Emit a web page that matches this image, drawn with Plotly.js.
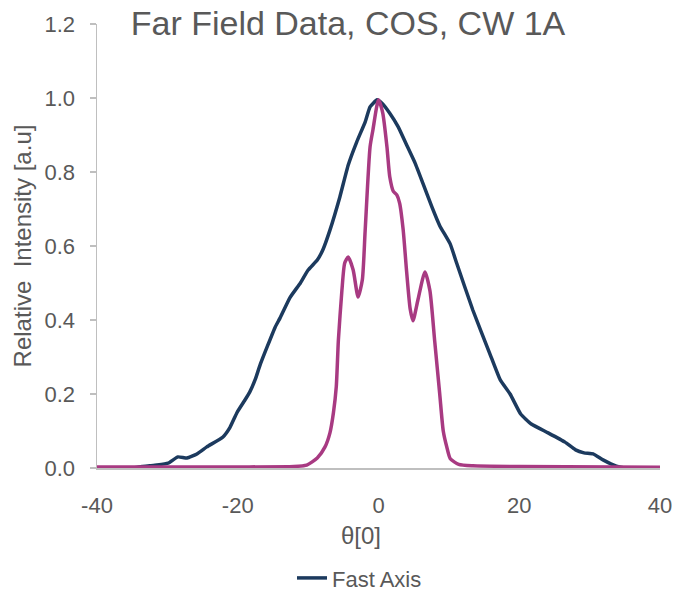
<!DOCTYPE html>
<html>
<head>
<meta charset="utf-8">
<script src="https://cdn.plot.ly/plotly-3.0.1.min.js"></script>
<style>html,body{margin:0;padding:0;background:#fff;}#chart{width:678px;height:590px;}</style>
</head>
<body>
<div id="chart"></div>
<script>
// Fast axis (navy)
var fastTheta = [-40, -35, -33.6, -32.5, -31.5, -29.9, -28.5, -27.2, -25.8, -24.4, -22.1, -21.1, -20.1, -19, -18.3, -17.5, -16.8, -14.7, -14, -12.6, -11.1, -10, -8.7, -7.9, -6.9, -5.5, -4.3, -3.1, -1.9, -1.2, -0.2, 0.5, 1.6, 2.8, 4.0, 5.2, 6.3, 7.6, 8.7, 10.2, 11.1, 13.4, 15.8, 17.3, 18.7, 20.2, 21.7, 24.1, 26.5, 28, 29.2, 30.5, 31.9, 33.8, 35, 40];
var fastI = [0.0, 0.0, 0.004, 0.006, 0.008, 0.013, 0.03, 0.027, 0.038, 0.057, 0.084, 0.11, 0.15, 0.183, 0.205, 0.24, 0.28, 0.38, 0.405, 0.46, 0.50, 0.535, 0.562, 0.59, 0.643, 0.732, 0.819, 0.881, 0.935, 0.976, 0.995, 0.986, 0.959, 0.922, 0.873, 0.824, 0.77, 0.705, 0.655, 0.605, 0.554, 0.427, 0.31, 0.238, 0.2, 0.146, 0.119, 0.095, 0.07, 0.049, 0.041, 0.038, 0.022, 0.005, 0.0, 0.0];
// Slow axis (magenta)
var slowTheta = [-40, -34, -20, -12, -10.2, -8.7, -7.6, -6.9, -6.4, -6.0, -5.7, -5.2, -4.8, -4.3, -3.6, -2.9, -2.3, -1.9, -1.2, -0.8, 0, 0.6, 1.2, 1.6, 2.1, 2.6, 3.0, 3.5, 4.0, 4.5, 4.9, 5.6, 6.6, 7.3, 8.0, 8.7, 9.2, 9.7, 10.2, 11.4, 13.4, 20, 40];
var slowI = [0.003, 0.003, 0.003, 0.004, 0.008, 0.027, 0.057, 0.095, 0.15, 0.22, 0.346, 0.48, 0.554, 0.57, 0.535, 0.462, 0.508, 0.64, 0.868, 0.913, 0.995, 0.96, 0.868, 0.787, 0.748, 0.738, 0.716, 0.645, 0.53, 0.43, 0.398, 0.454, 0.53, 0.48, 0.34, 0.2, 0.1, 0.057, 0.025, 0.01, 0.006, 0.004, 0.002];
var xTicks = [-40, -20, 0, 20, 40];
var yTicks = [0, 0.2, 0.4, 0.6, 0.8, 1.0, 1.2];

var txt = '#595959';
var fnt = 'Liberation Sans, Arial, sans-serif';
var traces = [
  {x: fastTheta, y: fastI, type: 'scatter', mode: 'lines', name: 'Fast Axis',
   line: {color: '#1C3A5E', width: 3.5, shape: 'spline', smoothing: 0.4}, cliponaxis: false},
  {x: slowTheta, y: slowI, type: 'scatter', mode: 'lines', name: 'Slow Axis', showlegend: false,
   line: {color: '#A83A82', width: 3.5, shape: 'spline', smoothing: 0.6}, cliponaxis: false}
];
var layout = {
  width: 678, height: 590,
  margin: {l: 97, r: 18, t: 24, b: 122, autoexpand: false},
  paper_bgcolor: '#fff', plot_bgcolor: '#fff',
  font: {family: fnt, color: txt, size: 22},
  title: {text: 'Far Field Data, COS, CW 1A', font: {family: fnt, size: 34, color: txt},
          x: 348/678, xanchor: 'center', xref: 'container', y: 1 - 23/590, yanchor: 'middle', yref: 'container'},
  xaxis: {range: [-40, 40], tickvals: xTicks, ticktext: xTicks.map(String), showline: true, linecolor: '#BFBFBF', linewidth: 1.5,
          ticks: '', showgrid: false, zeroline: false, ticklabelstandoff: 17, tickfont: {size: 22, color: txt},
          automargin: false},
  yaxis: {range: [0, 1.2], tickvals: yTicks, tickformat: '.1f', showline: true, linecolor: '#BFBFBF', linewidth: 1.5,
          ticks: 'outside', ticklen: 6, tickcolor: '#BFBFBF', tickwidth: 1.5, showgrid: false, zeroline: false,
          ticklabelstandoff: 10, tickfont: {size: 22, color: txt}, automargin: false,
          title: {text: 'Relative  Intensity [a.u]', font: {size: 24, color: txt}, standoff: 6}},
  annotations: [
    {text: 'θ[0]', xref: 'paper', yref: 'paper', x: (361 - 97) / 563, y: (468 - 535) / 444,
     xanchor: 'center', yanchor: 'middle', showarrow: false, font: {size: 24, color: txt}}
  ],
  showlegend: true,
  legend: {orientation: 'h', x: (292 - 97) / 563, xanchor: 'left', y: -0.248, yanchor: 'middle', font: {size: 22, color: txt}, bgcolor: 'rgba(0,0,0,0)'}
};
Plotly.newPlot('chart', traces, layout, {displayModeBar: false, staticPlot: true});
</script>
</body>
</html>
